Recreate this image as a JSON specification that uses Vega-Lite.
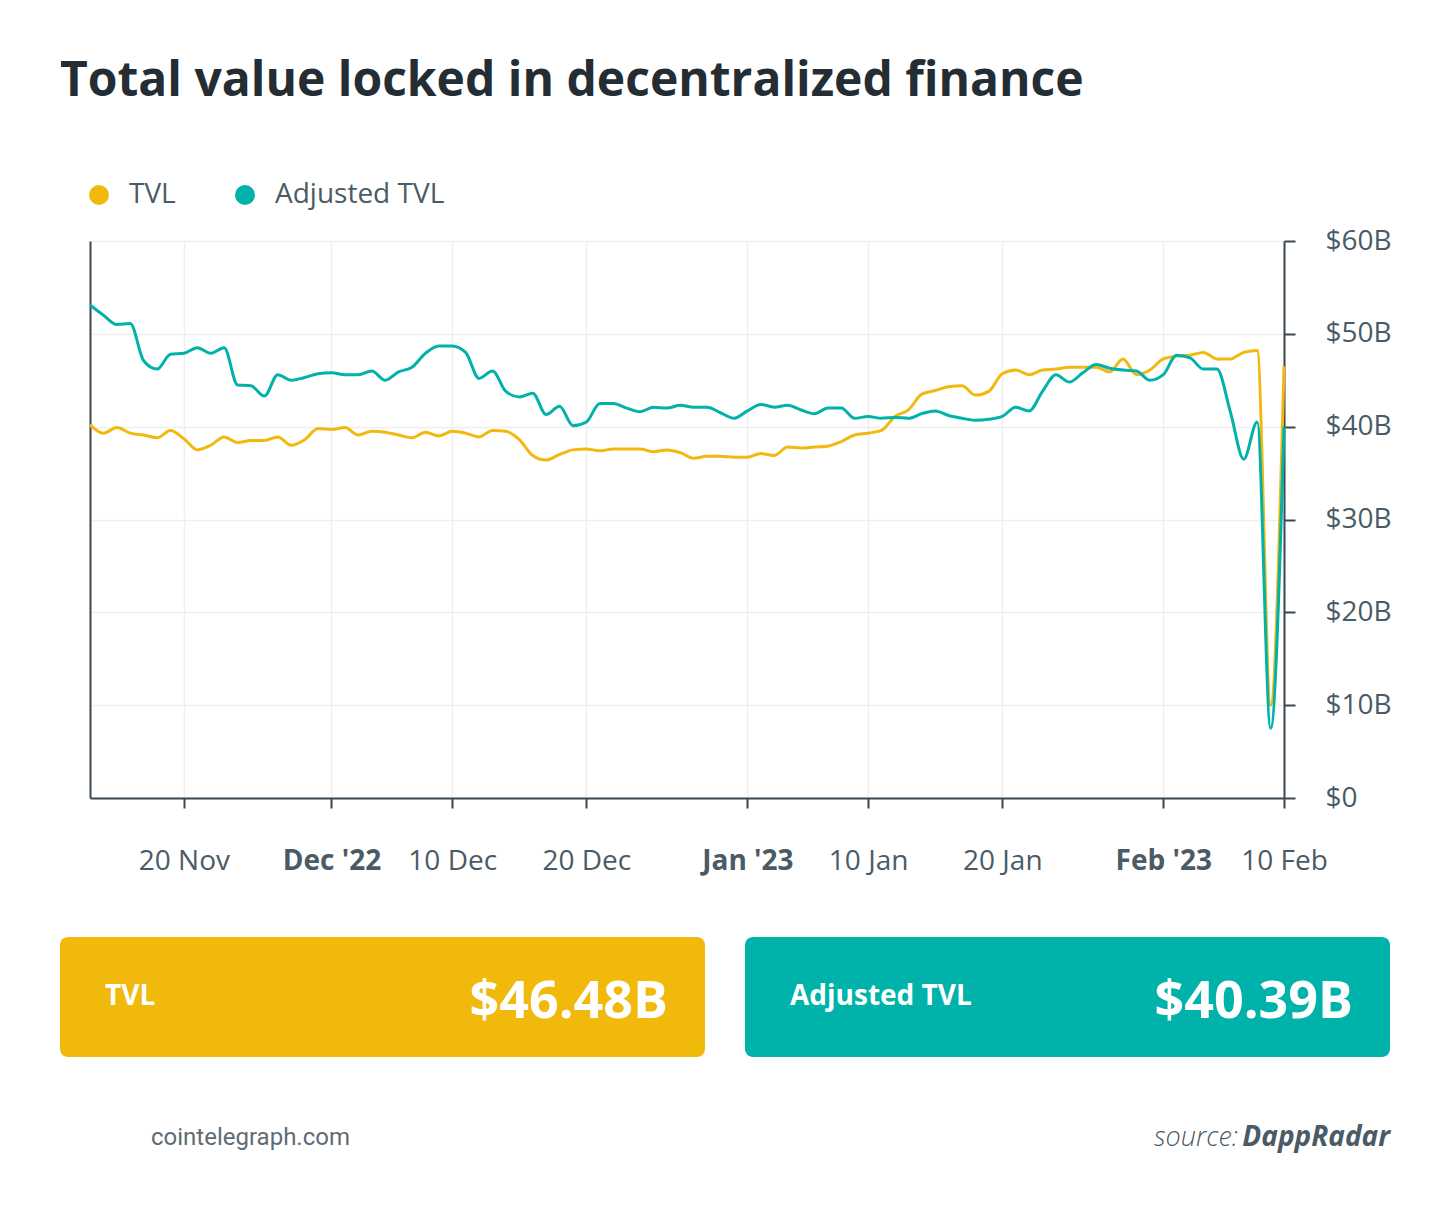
{
  "$schema": "https://vega.github.io/schema/vega-lite/v6.json",
  "background": "white",
  "padding": {"left": 60, "top": 58, "right": 59, "bottom": 40},
  "title": {"text": "Total value locked in decentralized finance", "anchor": "start", "font": "Open Sans", "fontSize": 48, "fontWeight": "bold", "color": "#232D33", "offset": 75},
  "config": {"view": {"stroke": null}, "font": "Open Sans"},
  "datasets": {
    "tvl": [
      {"date": "2022/11/13", "TVL": 40.2, "Adjusted TVL": 53.1},
      {"date": "2022/11/14", "TVL": 39.3, "Adjusted TVL": 52.0},
      {"date": "2022/11/15", "TVL": 39.9, "Adjusted TVL": 51.0},
      {"date": "2022/11/16", "TVL": 39.3, "Adjusted TVL": 51.1},
      {"date": "2022/11/17", "TVL": 39.1, "Adjusted TVL": 47.1},
      {"date": "2022/11/18", "TVL": 38.8, "Adjusted TVL": 46.2},
      {"date": "2022/11/19", "TVL": 39.6, "Adjusted TVL": 47.8},
      {"date": "2022/11/20", "TVL": 38.7, "Adjusted TVL": 47.9},
      {"date": "2022/11/21", "TVL": 37.5, "Adjusted TVL": 48.5},
      {"date": "2022/11/22", "TVL": 38.0, "Adjusted TVL": 47.9},
      {"date": "2022/11/23", "TVL": 38.9, "Adjusted TVL": 48.5},
      {"date": "2022/11/24", "TVL": 38.3, "Adjusted TVL": 44.5},
      {"date": "2022/11/25", "TVL": 38.5, "Adjusted TVL": 44.4},
      {"date": "2022/11/26", "TVL": 38.5, "Adjusted TVL": 43.3},
      {"date": "2022/11/27", "TVL": 38.9, "Adjusted TVL": 45.6},
      {"date": "2022/11/28", "TVL": 38.0, "Adjusted TVL": 45.0},
      {"date": "2022/11/29", "TVL": 38.6, "Adjusted TVL": 45.3},
      {"date": "2022/11/30", "TVL": 39.8, "Adjusted TVL": 45.7},
      {"date": "2022/12/01", "TVL": 39.7, "Adjusted TVL": 45.8},
      {"date": "2022/12/02", "TVL": 39.9, "Adjusted TVL": 45.6},
      {"date": "2022/12/03", "TVL": 39.1, "Adjusted TVL": 45.6},
      {"date": "2022/12/04", "TVL": 39.5, "Adjusted TVL": 46.0},
      {"date": "2022/12/05", "TVL": 39.4, "Adjusted TVL": 45.0},
      {"date": "2022/12/06", "TVL": 39.1, "Adjusted TVL": 45.9},
      {"date": "2022/12/07", "TVL": 38.8, "Adjusted TVL": 46.4},
      {"date": "2022/12/08", "TVL": 39.4, "Adjusted TVL": 47.9},
      {"date": "2022/12/09", "TVL": 39.0, "Adjusted TVL": 48.7},
      {"date": "2022/12/10", "TVL": 39.5, "Adjusted TVL": 48.7},
      {"date": "2022/12/11", "TVL": 39.3, "Adjusted TVL": 48.0},
      {"date": "2022/12/12", "TVL": 38.9, "Adjusted TVL": 45.2},
      {"date": "2022/12/13", "TVL": 39.6, "Adjusted TVL": 46.0},
      {"date": "2022/12/14", "TVL": 39.5, "Adjusted TVL": 43.8},
      {"date": "2022/12/15", "TVL": 38.6, "Adjusted TVL": 43.2},
      {"date": "2022/12/16", "TVL": 36.9, "Adjusted TVL": 43.6},
      {"date": "2022/12/17", "TVL": 36.4, "Adjusted TVL": 41.3},
      {"date": "2022/12/18", "TVL": 37.0, "Adjusted TVL": 42.2},
      {"date": "2022/12/19", "TVL": 37.5, "Adjusted TVL": 40.1},
      {"date": "2022/12/20", "TVL": 37.6, "Adjusted TVL": 40.5},
      {"date": "2022/12/21", "TVL": 37.4, "Adjusted TVL": 42.5},
      {"date": "2022/12/22", "TVL": 37.6, "Adjusted TVL": 42.5},
      {"date": "2022/12/23", "TVL": 37.6, "Adjusted TVL": 42.0},
      {"date": "2022/12/24", "TVL": 37.6, "Adjusted TVL": 41.6},
      {"date": "2022/12/25", "TVL": 37.3, "Adjusted TVL": 42.1},
      {"date": "2022/12/26", "TVL": 37.5, "Adjusted TVL": 42.0},
      {"date": "2022/12/27", "TVL": 37.2, "Adjusted TVL": 42.3},
      {"date": "2022/12/28", "TVL": 36.6, "Adjusted TVL": 42.1},
      {"date": "2022/12/29", "TVL": 36.8, "Adjusted TVL": 42.1},
      {"date": "2022/12/30", "TVL": 36.8, "Adjusted TVL": 41.5},
      {"date": "2022/12/31", "TVL": 36.7, "Adjusted TVL": 40.9},
      {"date": "2023/01/01", "TVL": 36.7, "Adjusted TVL": 41.7},
      {"date": "2023/01/02", "TVL": 37.1, "Adjusted TVL": 42.4},
      {"date": "2023/01/03", "TVL": 36.9, "Adjusted TVL": 42.1},
      {"date": "2023/01/04", "TVL": 37.8, "Adjusted TVL": 42.3},
      {"date": "2023/01/05", "TVL": 37.7, "Adjusted TVL": 41.8},
      {"date": "2023/01/06", "TVL": 37.8, "Adjusted TVL": 41.4},
      {"date": "2023/01/07", "TVL": 37.9, "Adjusted TVL": 42.0},
      {"date": "2023/01/08", "TVL": 38.4, "Adjusted TVL": 42.0},
      {"date": "2023/01/09", "TVL": 39.1, "Adjusted TVL": 40.9},
      {"date": "2023/01/10", "TVL": 39.3, "Adjusted TVL": 41.1},
      {"date": "2023/01/11", "TVL": 39.6, "Adjusted TVL": 40.9},
      {"date": "2023/01/12", "TVL": 41.1, "Adjusted TVL": 41.0},
      {"date": "2023/01/13", "TVL": 41.8, "Adjusted TVL": 40.9},
      {"date": "2023/01/14", "TVL": 43.5, "Adjusted TVL": 41.4},
      {"date": "2023/01/15", "TVL": 43.9, "Adjusted TVL": 41.7},
      {"date": "2023/01/16", "TVL": 44.3, "Adjusted TVL": 41.2},
      {"date": "2023/01/17", "TVL": 44.4, "Adjusted TVL": 40.9},
      {"date": "2023/01/18", "TVL": 43.4, "Adjusted TVL": 40.7},
      {"date": "2023/01/19", "TVL": 43.8, "Adjusted TVL": 40.8},
      {"date": "2023/01/20", "TVL": 45.7, "Adjusted TVL": 41.1},
      {"date": "2023/01/21", "TVL": 46.1, "Adjusted TVL": 42.1},
      {"date": "2023/01/22", "TVL": 45.6, "Adjusted TVL": 41.7},
      {"date": "2023/01/23", "TVL": 46.1, "Adjusted TVL": 43.8},
      {"date": "2023/01/24", "TVL": 46.2, "Adjusted TVL": 45.6},
      {"date": "2023/01/25", "TVL": 46.4, "Adjusted TVL": 44.8},
      {"date": "2023/01/26", "TVL": 46.4, "Adjusted TVL": 45.8},
      {"date": "2023/01/27", "TVL": 46.4, "Adjusted TVL": 46.7},
      {"date": "2023/01/28", "TVL": 45.9, "Adjusted TVL": 46.3},
      {"date": "2023/01/29", "TVL": 47.3, "Adjusted TVL": 46.1},
      {"date": "2023/01/30", "TVL": 45.6, "Adjusted TVL": 46.0},
      {"date": "2023/01/31", "TVL": 46.1, "Adjusted TVL": 45.0},
      {"date": "2023/02/01", "TVL": 47.3, "Adjusted TVL": 45.6},
      {"date": "2023/02/02", "TVL": 47.6, "Adjusted TVL": 47.7},
      {"date": "2023/02/03", "TVL": 47.7, "Adjusted TVL": 47.4},
      {"date": "2023/02/04", "TVL": 48.0, "Adjusted TVL": 46.2},
      {"date": "2023/02/05", "TVL": 47.3, "Adjusted TVL": 46.2},
      {"date": "2023/02/06", "TVL": 47.3, "Adjusted TVL": 41.6},
      {"date": "2023/02/07", "TVL": 48.0, "Adjusted TVL": 36.5},
      {"date": "2023/02/08", "TVL": 48.2, "Adjusted TVL": 40.5},
      {"date": "2023/02/09", "TVL": 10.0, "Adjusted TVL": 7.5},
      {"date": "2023/02/10", "TVL": 46.5, "Adjusted TVL": 40.0}
    ]
  },
  "vconcat": [
    {
      "hconcat": [
        {
          "width": 1,
          "height": 557,
          "data": {"values": [{}]},
          "mark": {"type": "text", "opacity": 0},
          "encoding": {}
        },
        {
          "width": 1194,
          "height": 557,
          "data": {"name": "tvl"},
          "transform": [{"fold": ["TVL", "Adjusted TVL"], "as": ["series", "value"]}],
          "encoding": {
            "x": {
              "field": "date",
              "type": "temporal",
              "scale": {"domain": [{"year": 2022, "month": 11, "date": 13}, {"year": 2023, "month": 2, "date": 10}]},
              "axis": {
                "title": null,
                "values": [
                  {"year": 2022, "month": 11, "date": 20},
                  {"year": 2022, "month": 12, "date": 1},
                  {"year": 2022, "month": 12, "date": 10},
                  {"year": 2022, "month": 12, "date": 20},
                  {"year": 2023, "month": 1, "date": 1},
                  {"year": 2023, "month": 1, "date": 10},
                  {"year": 2023, "month": 1, "date": 20},
                  {"year": 2023, "month": 2, "date": 1},
                  {"year": 2023, "month": 2, "date": 10}
                ],
                "labelExpr": "date(datum.value) == 1 ? timeFormat(datum.value, \"%b '%y\") : timeFormat(datum.value, '%-d %b')",
                "labelFontWeight": {"condition": {"test": "date(datum.value) == 1", "value": "bold"}, "value": "normal"},
                "labelFont": "Open Sans",
                "labelFontSize": 28,
                "labelColor": "#4B5B66",
                "labelPadding": 39,
                "labelFlush": false,
                "grid": true,
                "gridColor": "#EFEFEF",
                "gridWidth": 1.5,
                "domainColor": "#3B4852",
                "domainWidth": 2,
                "tickColor": "#3B4852",
                "tickWidth": 2,
                "tickSize": 10
              }
            },
            "color": {
              "field": "series",
              "type": "nominal",
              "scale": {"domain": ["TVL", "Adjusted TVL"], "range": ["#F2B80D", "#00B2A9"]},
              "legend": {
                "orient": "none",
                "legendX": 25,
                "legendY": -60,
                "direction": "horizontal",
                "title": null,
                "padding": 0,
                "symbolType": "circle",
                "symbolSize": 400,
                "symbolStrokeWidth": 0,
                "labelFont": "Open Sans",
                "labelFontSize": 28,
                "labelColor": "#4B5B66",
                "labelOffset": 16,
                "labelLimit": 500,
                "columnPadding": 55,
                "encode": {"symbols": {"update": {"fill": {"scale": "color", "field": "value"}, "stroke": {"value": "transparent"}}}}
              }
            }
          },
          "layer": [
            {
              "transform": [{"filter": "datum.series == 'TVL'"}],
              "mark": {"type": "line", "interpolate": "monotone", "strokeWidth": 3},
              "encoding": {
                "y": {
                  "field": "value",
                  "type": "quantitative",
                  "scale": {"domain": [0, 60]},
                  "axis": {
                    "orient": "right",
                    "title": null,
                    "values": [0, 10, 20, 30, 40, 50, 60],
                    "labelExpr": "datum.value == 0 ? '$0' : '$' + datum.value + 'B'",
                    "labelFont": "Open Sans",
                    "labelFontSize": 28,
                    "labelColor": "#4B5B66",
                    "labelPadding": 30,
                    "grid": true,
                    "gridColor": "#EFEFEF",
                    "gridWidth": 1.5,
                    "domainColor": "#3B4852",
                    "domainWidth": 2,
                    "tickColor": "#3B4852",
                    "tickWidth": 2,
                    "tickSize": 11
                  }
                }
              }
            },
            {
              "transform": [{"filter": "datum.series == 'Adjusted TVL'"}],
              "mark": {"type": "line", "interpolate": "monotone", "strokeWidth": 3},
              "encoding": {
                "y": {
                  "field": "value",
                  "type": "quantitative",
                  "scale": {"domain": [0, 60]},
                  "axis": {
                    "orient": "left",
                    "title": null,
                    "labels": false,
                    "ticks": false,
                    "grid": false,
                    "domain": true,
                    "domainColor": "#3B4852",
                    "domainWidth": 2
                  }
                }
              }
            }
          ],
          "resolve": {"axis": {"y": "independent"}}
        }
      ],
      "spacing": 23
    },
    {
      "hconcat": [
        {
          "width": 645,
          "height": 120,
          "view": {"fill": "#F2B90D", "stroke": null, "cornerRadius": 8},
          "data": {"values": [{"label": "TVL", "amount": "$46.48B"}]},
          "layer": [
            {"mark": {"type": "text", "align": "left", "baseline": "middle", "dx": 45, "font": "Open Sans", "fontSize": 28, "fontWeight": "bold", "color": "white"}, "encoding": {"text": {"field": "label"}, "x": {"value": 0}}},
            {"mark": {"type": "text", "align": "right", "baseline": "middle", "dx": -37, "dy": 5, "font": "Open Sans", "fontSize": 52, "fontWeight": "bold", "color": "white"}, "encoding": {"text": {"field": "amount"}, "x": {"value": "width"}}}
          ]
        },
        {
          "width": 645,
          "height": 120,
          "view": {"fill": "#00B3AA", "stroke": null, "cornerRadius": 8},
          "data": {"values": [{"label": "Adjusted TVL", "amount": "$40.39B"}]},
          "layer": [
            {"mark": {"type": "text", "align": "left", "baseline": "middle", "dx": 45, "font": "Open Sans", "fontSize": 28, "fontWeight": "bold", "color": "white"}, "encoding": {"text": {"field": "label"}, "x": {"value": 0}}},
            {"mark": {"type": "text", "align": "right", "baseline": "middle", "dx": -37, "dy": 5, "font": "Open Sans", "fontSize": 52, "fontWeight": "bold", "color": "white"}, "encoding": {"text": {"field": "amount"}, "x": {"value": "width"}}}
          ]
        }
      ],
      "spacing": 40
    },
    {
      "width": 1330,
      "height": 38,
      "data": {"values": [{"site": "cointelegraph.com", "label": "source:", "source": "DappRadar"}]},
      "layer": [
        {"mark": {"type": "text", "align": "left", "baseline": "middle", "dx": 91, "font": "Roboto", "fontSize": 24, "color": "#5F6B73"}, "encoding": {"text": {"field": "site"}, "x": {"value": 0}}},
        {"mark": {"type": "text", "align": "right", "baseline": "middle", "dx": -152, "font": "Open Sans", "fontSize": 27, "fontStyle": "italic", "fontWeight": 300, "color": "#4B5B66"}, "encoding": {"text": {"field": "label"}, "x": {"value": "width"}}},
        {"mark": {"type": "text", "align": "right", "baseline": "middle", "font": "Open Sans", "fontSize": 28, "fontStyle": "italic", "fontWeight": "bold", "color": "#4B5B66"}, "encoding": {"text": {"field": "source"}, "x": {"value": "width"}}}
      ]
    }
  ],
  "spacing": 62
}
